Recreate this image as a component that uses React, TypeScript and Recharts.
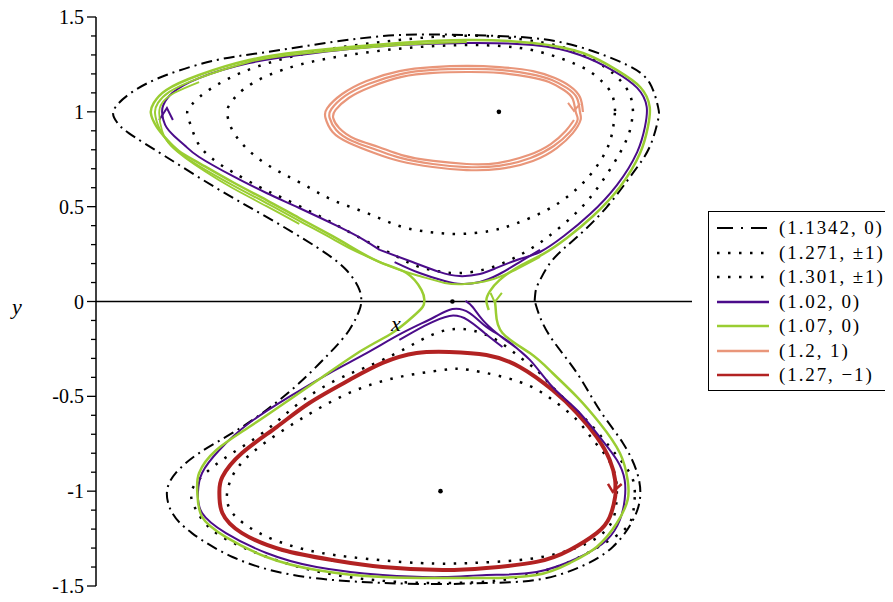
import React from "react";
import {
  ComposedChart, Line, Scatter, XAxis, YAxis, ReferenceLine, ReferenceDot, Legend,
} from "recharts";

type Pt = [number, number];

// outer orbit through (1.1342, 0)
const dashDotOrbit: Pt[] = [
  [1.136, 0.003], [1.138, 0.061], [1.145, 0.113], [1.166, 0.219], [1.207, 0.34], [1.257, 0.498],
  [1.301, 0.678], [1.329, 0.815], [1.343, 0.957], [1.343, 1.026], [1.329, 1.152], [1.291, 1.247],
  [1.217, 1.337], [1.133, 1.389], [1.022, 1.405], [0.909, 1.405], [0.797, 1.368], [0.686, 1.315],
  [0.602, 1.273], [0.518, 1.194], [0.461, 1.105], [0.43, 1.01], [0.435, 0.946], [0.455, 0.888],
  [0.518, 0.762], [0.602, 0.598], [0.686, 0.446], [0.77, 0.287], [0.82, 0.166], [0.842, 0.061],
  [0.845, 0.003], [0.842, -0.045], [0.825, -0.15], [0.792, -0.272], [0.741, -0.43], [0.686, -0.572],
  [0.629, -0.693], [0.573, -0.799], [0.534, -0.904], [0.519, -1.004], [0.528, -1.115], [0.561, -1.221],
  [0.629, -1.347], [0.713, -1.431], [0.797, -1.468], [0.881, -1.484], [0.976, -1.49], [1.055, -1.484],
  [1.139, -1.468], [1.212, -1.4], [1.267, -1.294], [1.301, -1.152], [1.313, -1.031], [1.308, -0.904],
  [1.284, -0.746], [1.245, -0.572], [1.207, -0.377], [1.166, -0.203], [1.145, -0.082], [1.136, 0.003],
];

const dotUpper1271: Pt[] = [
  [1.271, 1.004], [1.266, 1.089], [1.25, 1.157], [1.224, 1.221], [1.178, 1.284], [1.111, 1.337],
  [1.027, 1.352], [0.943, 1.342], [0.859, 1.315], [0.775, 1.273], [0.713, 1.221], [0.666, 1.157],
  [0.637, 1.089], [0.624, 1.036], [0.62, 0.994], [0.627, 0.915], [0.644, 0.836], [0.671, 0.757],
  [0.708, 0.683], [0.75, 0.614], [0.797, 0.535], [0.854, 0.467], [0.909, 0.398], [0.96, 0.366],
  [1.01, 0.356], [1.061, 0.372], [1.103, 0.409], [1.153, 0.477], [1.195, 0.562], [1.229, 0.667],
  [1.254, 0.783], [1.266, 0.888], [1.271, 1.004],
];

const dotUpper1301: Pt[] = [
  [1.301, 1.004], [1.296, 1.089], [1.279, 1.168], [1.254, 1.236], [1.212, 1.31], [1.153, 1.363],
  [1.077, 1.395], [0.993, 1.4], [0.909, 1.379], [0.825, 1.347], [0.741, 1.3], [0.674, 1.242],
  [0.624, 1.178], [0.582, 1.099], [0.56, 1.036], [0.553, 0.994], [0.56, 0.92], [0.573, 0.825],
  [0.598, 0.746], [0.629, 0.683], [0.674, 0.604], [0.713, 0.546], [0.758, 0.477], [0.797, 0.414],
  [0.85, 0.324], [0.897, 0.25], [0.934, 0.192], [0.971, 0.161], [1.01, 0.15], [1.061, 0.177],
  [1.111, 0.245], [1.156, 0.335], [1.207, 0.472], [1.245, 0.614], [1.279, 0.783], [1.296, 0.904],
  [1.301, 1.004],
];

const dotLower1271: Pt[] = [
  [1.274, -1.0], [1.267, -1.152], [1.234, -1.258], [1.178, -1.326], [1.111, -1.363], [1.027, -1.379],
  [0.943, -1.379], [0.825, -1.347], [0.741, -1.3], [0.674, -1.221], [0.629, -1.115], [0.62, -1.009],
  [0.635, -0.888], [0.674, -0.767], [0.741, -0.625], [0.825, -0.482], [0.909, -0.398], [0.982, -0.361],
  [1.027, -0.361], [1.111, -0.424], [1.166, -0.519], [1.207, -0.625], [1.234, -0.73], [1.257, -0.82],
  [1.271, -0.915], [1.274, -1.0],
];

const dotLower1301: Pt[] = [
  [1.304, -1.031], [1.301, -1.115], [1.291, -1.189], [1.262, -1.258], [1.212, -1.347], [1.156, -1.416],
  [1.082, -1.468], [0.998, -1.484], [0.909, -1.479], [0.825, -1.453], [0.741, -1.4], [0.657, -1.31],
  [0.595, -1.205], [0.568, -1.099], [0.561, -0.994], [0.59, -0.888], [0.629, -0.799], [0.686, -0.678],
  [0.741, -0.535], [0.803, -0.414], [0.854, -0.345], [0.914, -0.256], [0.976, -0.161], [1.027, -0.15],
  [1.072, -0.203], [1.111, -0.293], [1.139, -0.361], [1.166, -0.451], [1.2, -0.556], [1.234, -0.662],
  [1.262, -0.767], [1.284, -0.852], [1.301, -0.941], [1.304, -1.031],
];

const purpleLower: Pt[] = [
  [1.02, 0.003], [1.032, -0.029], [1.049, -0.098], [1.072, -0.166], [1.094, -0.219], [1.128, -0.308],
  [1.166, -0.451], [1.207, -0.572], [1.245, -0.714], [1.274, -0.836], [1.287, -0.941], [1.287, -1.046],
  [1.279, -1.152], [1.257, -1.258], [1.212, -1.347], [1.139, -1.426], [1.055, -1.442], [0.982, -1.453],
  [0.881, -1.442], [0.77, -1.4], [0.686, -1.326], [0.618, -1.221], [0.578, -1.115], [0.571, -1.009],
  [0.578, -0.904], [0.607, -0.783], [0.657, -0.641], [0.724, -0.503], [0.792, -0.377], [0.854, -0.272],
  [0.914, -0.166], [0.965, -0.087], [0.998, -0.04], [1.027, -0.061], [1.055, -0.134], [1.089, -0.203],
  [1.128, -0.308],
];
const purpleLowerExtra: Pt[] = [
  [0.909, -0.203], [0.951, -0.129], [0.993, -0.076], [1.024, -0.098], [1.052, -0.166], [1.082, -0.24],
];
const purpleUpper: Pt[] = [
  [0.876, 0.272], [0.931, 0.208], [0.976, 0.156], [1.01, 0.134], [1.044, 0.145], [1.072, 0.177],
  [1.111, 0.224], [1.145, 0.261], [1.185, 0.345], [1.229, 0.461], [1.274, 0.614], [1.308, 0.788],
  [1.321, 0.92], [1.324, 1.026], [1.308, 1.126], [1.269, 1.215], [1.212, 1.3], [1.133, 1.352],
  [1.022, 1.363], [0.909, 1.352], [0.825, 1.331], [0.741, 1.3], [0.657, 1.257], [0.573, 1.178],
  [0.528, 1.099], [0.513, 1.036], [0.511, 0.994], [0.516, 0.931], [0.531, 0.873], [0.55, 0.82],
  [0.573, 0.762], [0.629, 0.662], [0.686, 0.572], [0.741, 0.493], [0.808, 0.393], [0.85, 0.324],
  [0.876, 0.272],
];
const purpleUpperExtra: Pt[] = [
  [0.901, 0.208], [0.943, 0.15], [0.985, 0.108], [1.013, 0.092], [1.044, 0.103], [1.077, 0.145],
  [1.111, 0.208], [1.145, 0.272],
];
const purpleArrow: Pt[] = [[0.506, 0.957], [0.519, 1.02], [0.529, 0.957]];

const greenMain: Pt[] = [
  [1.069, 0.008], [1.071, -0.055], [1.082, -0.166], [1.128, -0.272], [1.166, -0.377], [1.207, -0.503],
  [1.245, -0.641], [1.279, -0.799], [1.292, -0.941], [1.292, -1.046], [1.274, -1.168], [1.24, -1.294],
  [1.195, -1.379], [1.139, -1.442], [1.055, -1.458], [0.993, -1.458], [0.881, -1.453], [0.77, -1.416],
  [0.686, -1.347], [0.618, -1.242], [0.578, -1.136], [0.57, -1.009], [0.573, -0.904], [0.602, -0.783],
  [0.657, -0.662], [0.724, -0.519], [0.78, -0.398], [0.847, -0.256], [0.897, -0.166], [0.931, -0.082],
  [0.948, -0.029], [0.951, 0.008], [0.946, 0.061], [0.921, 0.15], [0.876, 0.208], [0.825, 0.293],
  [0.797, 0.345], [0.741, 0.44], [0.686, 0.535], [0.629, 0.63], [0.573, 0.73], [0.539, 0.794],
  [0.518, 0.857], [0.501, 0.925], [0.492, 0.994], [0.497, 1.047], [0.518, 1.115], [0.573, 1.194],
  [0.657, 1.273], [0.741, 1.315], [0.825, 1.342], [0.909, 1.363], [1.022, 1.379], [1.133, 1.363],
  [1.217, 1.31], [1.274, 1.22], [1.313, 1.131], [1.329, 1.026], [1.326, 0.92], [1.313, 0.783],
  [1.279, 0.604], [1.234, 0.451], [1.19, 0.335], [1.15, 0.25], [1.111, 0.187], [1.077, 0.113],
  [1.061, 0.055], [1.055, 0.008], [1.059, -0.045],
];
const greenSecond: Pt[] = [
  [1.145, 0.235], [1.103, 0.166], [1.061, 0.113], [1.019, 0.092], [0.985, 0.098], [0.943, 0.134],
  [0.892, 0.187], [0.825, 0.282], [0.797, 0.33], [0.741, 0.425], [0.686, 0.519], [0.629, 0.614],
  [0.573, 0.714], [0.543, 0.778], [0.521, 0.841], [0.506, 0.915], [0.499, 0.994], [0.504, 1.047],
  [0.523, 1.105], [0.573, 1.178], [0.657, 1.263], [0.741, 1.305], [0.909, 1.352], [1.022, 1.368],
];
const greenThird: Pt[] = [
  [0.741, 0.409], [0.686, 0.503], [0.629, 0.598], [0.582, 0.688], [0.55, 0.757], [0.526, 0.82],
  [0.511, 0.899], [0.506, 0.994], [0.511, 1.047], [0.531, 1.099], [0.573, 1.157],
];
const greenArrow: Pt[] = [[1.062, 0.045], [1.069, -0.003], [1.081, 0.045]];

const orangeOuter: Pt[] = [
  [1.217, 0.999], [1.212, 1.078], [1.195, 1.136], [1.17, 1.178], [1.133, 1.215], [1.077, 1.236],
  [1.022, 1.242], [0.965, 1.236], [0.909, 1.215], [0.854, 1.163], [0.813, 1.094], [0.788, 1.02],
  [0.785, 0.968], [0.797, 0.894], [0.825, 0.836], [0.867, 0.783], [0.909, 0.741], [0.965, 0.709],
  [1.022, 0.693], [1.077, 0.699], [1.133, 0.741], [1.173, 0.809], [1.2, 0.888], [1.213, 0.957],
];
const orangeMiddle: Pt[] = [
  [1.212, 0.999], [1.207, 1.073], [1.19, 1.126], [1.165, 1.168], [1.129, 1.199], [1.077, 1.221],
  [1.022, 1.226], [0.965, 1.221], [0.911, 1.199], [0.857, 1.147], [0.818, 1.084], [0.795, 1.015],
  [0.792, 0.968], [0.803, 0.904], [0.83, 0.846], [0.871, 0.799], [0.911, 0.757], [0.965, 0.725],
  [1.022, 0.709], [1.076, 0.715], [1.129, 0.757], [1.168, 0.82], [1.195, 0.894], [1.208, 0.957],
];
const orangeInner: Pt[] = [
  [1.205, 0.999], [1.2, 1.068], [1.185, 1.115], [1.16, 1.157], [1.126, 1.184], [1.077, 1.205],
  [1.022, 1.21], [0.966, 1.205], [0.913, 1.184], [0.861, 1.131], [0.824, 1.073], [0.802, 1.01],
  [0.798, 0.968], [0.808, 0.915], [0.835, 0.857], [0.874, 0.815], [0.913, 0.772], [0.966, 0.741],
  [1.022, 0.725], [1.074, 0.73], [1.126, 0.772], [1.163, 0.83], [1.188, 0.899], [1.202, 0.957],
];
const orangeArrow: Pt[] = [[1.192, 1.047], [1.202, 1.005], [1.212, 1.042]];

const redLoop: Pt[] = [
  [1.271, -1.0], [1.271, -1.031], [1.262, -1.136], [1.24, -1.221], [1.195, -1.31], [1.139, -1.373],
  [1.055, -1.405], [0.982, -1.416], [0.881, -1.4], [0.797, -1.363], [0.713, -1.31], [0.645, -1.221],
  [0.612, -1.115], [0.607, -1.009], [0.612, -0.925], [0.645, -0.799], [0.703, -0.662], [0.758, -0.535],
  [0.825, -0.414], [0.881, -0.324], [0.938, -0.272], [0.993, -0.266], [1.055, -0.282], [1.111, -0.345],
  [1.166, -0.467], [1.207, -0.588], [1.24, -0.714], [1.262, -0.836], [1.271, -0.941], [1.271, -1.0],
];
const redArrow: Pt[] = [[1.259, -0.962], [1.267, -1.004], [1.282, -0.962]];

const equilibria: Pt[] = [[1.076, 1.0], [0.978, -1.0], [0.998, 0.0]];

const xTicks = [0.4, 0.5, 0.6, 0.7, 0.8, 0.9, 1.0, 1.1, 1.2, 1.3, 1.4];
const xLabelled = [0.6, 0.8, 1.0, 1.2, 1.4];
const yTicks = [
  -1.5, -1.4, -1.3, -1.2, -1.1, -1.0, -0.9, -0.8, -0.7, -0.6, -0.5, -0.4, -0.3, -0.2, -0.1, 0,
  0.1, 0.2, 0.3, 0.4, 0.5, 0.6, 0.7, 0.8, 0.9, 1.0, 1.1, 1.2, 1.3, 1.4, 1.5,
];
const yMajor = [-1.5, -1, -0.5, 0, 0.5, 1, 1.5];
const yMajorLabels = ["-1.5", "-1", "-0.5", "0", "0.5", "1", "1.5"];

const PURPLE = "#4B0C8A";
const GREEN = "#9ACD32";
const SALMON = "#E9967A";
const RED = "#B22222";
const DASHDOT = "11 5 2 5";
const DOTTED = "2.5 8.5";

const legendItems = [
  { label: "(1.1342, 0)", color: "#000", dash: "16 8 2 8", width: 2 },
  { label: "(1.271, \u00b11)", color: "#000", dash: "2.5 8.5", width: 2.5 },
  { label: "(1.301, \u00b11)", color: "#000", dash: "2.5 8.5", width: 2.5 },
  { label: "(1.02, 0)", color: PURPLE, dash: undefined, width: 2.5 },
  { label: "(1.07, 0)", color: GREEN, dash: undefined, width: 2.5 },
  { label: "(1.2, 1)", color: SALMON, dash: undefined, width: 2.5 },
  { label: "(1.27, \u22121)", color: RED, dash: undefined, width: 2.5 },
];

const rows = (pts: Pt[]) => pts.map(([x, y]) => ({ x, y }));

const series = [
  { key: "dd", pts: dashDotOrbit, stroke: "#000", width: 2, dash: DASHDOT },
  { key: "du1", pts: dotUpper1271, stroke: "#000", width: 2.5, dash: DOTTED },
  { key: "du2", pts: dotUpper1301, stroke: "#000", width: 2.5, dash: DOTTED },
  { key: "dl1", pts: dotLower1271, stroke: "#000", width: 2.5, dash: DOTTED },
  { key: "dl2", pts: dotLower1301, stroke: "#000", width: 2.5, dash: DOTTED },
  { key: "red", pts: redLoop, stroke: RED, width: 4 },
  { key: "redA", pts: redArrow, stroke: RED, width: 2.5, straight: true },
  { key: "or", pts: [...orangeOuter, ...orangeMiddle, ...orangeInner], stroke: SALMON, width: 2.2 },
  { key: "orA", pts: orangeArrow, stroke: SALMON, width: 2, straight: true },
  { key: "pl", pts: purpleLower, stroke: PURPLE, width: 2 },
  { key: "pl2", pts: purpleLowerExtra, stroke: PURPLE, width: 2 },
  { key: "pu", pts: purpleUpper, stroke: PURPLE, width: 2 },
  { key: "pu2", pts: purpleUpperExtra, stroke: PURPLE, width: 2 },
  { key: "pA", pts: purpleArrow, stroke: PURPLE, width: 2, straight: true },
  { key: "g1", pts: greenMain, stroke: GREEN, width: 2.5 },
  { key: "g2", pts: greenSecond, stroke: GREEN, width: 2 },
  { key: "g3", pts: greenThird, stroke: GREEN, width: 1.8 },
  { key: "gA", pts: greenArrow, stroke: GREEN, width: 2, straight: true },
];

const CHART_W = 885;
const CHART_H = 602;
const MARGIN = { top: 17, right: 201, bottom: 16, left: 0 };
// x axis is drawn at y = 0, the middle of the symmetric y range
const HALF_PLOT = (CHART_H - MARGIN.top - MARGIN.bottom) / 2;
const FONT = "Liberation Serif, Times New Roman, DejaVu Serif, serif";

const near = (a: number, b: number) => Math.abs(a - b) < 1e-6;

const XTick = (props: any) => {
  const { x, y, payload } = props;
  const y0 = y - HALF_PLOT;
  const lab = xLabelled.find((t) => near(t, payload.value));
  return (
    <g>
      <line x1={x} x2={x} y1={y0} y2={y0 + 7} stroke="#000" strokeWidth={1.3} />
      {lab !== undefined && (
        <text x={x} y={y0 + 31} textAnchor="middle" fontSize={20} style={{ fontFamily: FONT }} fill="#000">
          {lab.toFixed(1)}
        </text>
      )}
    </g>
  );
};

const YTick = (props: any) => {
  const { x, y, payload } = props;
  const idx = yMajor.findIndex((t) => near(t, payload.value));
  const major = idx >= 0;
  return (
    <g>
      <line x1={x} x2={x - (major ? 9 : 5)} y1={y} y2={y} stroke="#000" strokeWidth={1.3} />
      {major && (
        <text x={x - 12} y={y} dy="0.35em" textAnchor="end" fontSize={20} style={{ fontFamily: FONT }} fill="#000">
          {yMajorLabels[idx]}
        </text>
      )}
    </g>
  );
};

const LegendBox = () => (
  <div
    style={{
      border: "1.5px solid #000",
      borderRight: "none",
      background: "#fff",
      padding: "4px 0 2px 0",
      fontFamily: FONT,
      fontSize: 19,
      letterSpacing: "1.9px",
      color: "#000",
    }}
  >
    {legendItems.map((it) => (
      <div key={it.label} style={{ display: "flex", alignItems: "center", height: 24.5 }}>
        <svg width={62} height={10} style={{ flex: "none" }}>
          <line
            x1={8} x2={60} y1={5} y2={5}
            stroke={it.color} strokeWidth={it.width} strokeDasharray={it.dash}
          />
        </svg>
        <span style={{ marginLeft: 8, whiteSpace: "nowrap", lineHeight: "24px" }}>{it.label}</span>
      </div>
    ))}
  </div>
);

export default function App() {
  return (
    <div style={{ width: CHART_W, height: CHART_H, marginTop: -8, fontFamily: FONT }}>
      <ComposedChart width={CHART_W} height={CHART_H} margin={MARGIN} style={{ fontFamily: FONT }}>
        <XAxis
          type="number"
          dataKey="x"
          domain={[0.4, 1.4]}
          ticks={xTicks}
          interval={0}
          allowDataOverflow
          axisLine={false}
          tickLine={false}
          tickSize={0}
          tickMargin={0}
          height={0}
          tick={<XTick />}
        />
        <YAxis
          type="number"
          dataKey="y"
          domain={[-1.5, 1.5]}
          ticks={yTicks}
          interval={0}
          allowDataOverflow
          width={88}
          axisLine={{ stroke: "#000", strokeWidth: 1.5 }}
          tickLine={false}
          tickSize={0}
          tickMargin={0}
          tick={<YTick />}
          label={{ value: "y", position: "insideLeft", offset: 4, dy: 5, fontSize: 22, fontStyle: "italic", fill: "#000", style: { fontFamily: FONT } }}
        />
        <ReferenceLine y={0} stroke="#000" strokeWidth={1.5} />
        {series.map((s) => (
          <Line
            key={s.key}
            data={rows(s.pts)}
            dataKey="y"
            type={s.straight ? "linear" : "natural"}
            stroke={s.stroke}
            strokeWidth={s.width}
            strokeDasharray={s.dash}
            dot={false}
            activeDot={false}
            legendType="none"
            isAnimationActive={false}
          />
        ))}
        <Scatter
          data={rows(equilibria)}
          dataKey="y"
          fill="#000"
          isAnimationActive={false}
          legendType="none"
          shape={(p: any) => <circle cx={p.cx} cy={p.cy} r={2.3} fill="#000" />}
        />
        <ReferenceDot
          x={0.903}
          y={0}
          r={0}
          label={{ value: "x", position: "bottom", offset: 14, fontSize: 22, fontStyle: "italic", fill: "#000", style: { fontFamily: FONT } }}
        />
        <Legend
          layout="vertical"
          align="center"
          verticalAlign="middle"
          content={<LegendBox />}
          wrapperStyle={{ left: 700, top: 211, width: 185 }}
        />
      </ComposedChart>
    </div>
  );
}
